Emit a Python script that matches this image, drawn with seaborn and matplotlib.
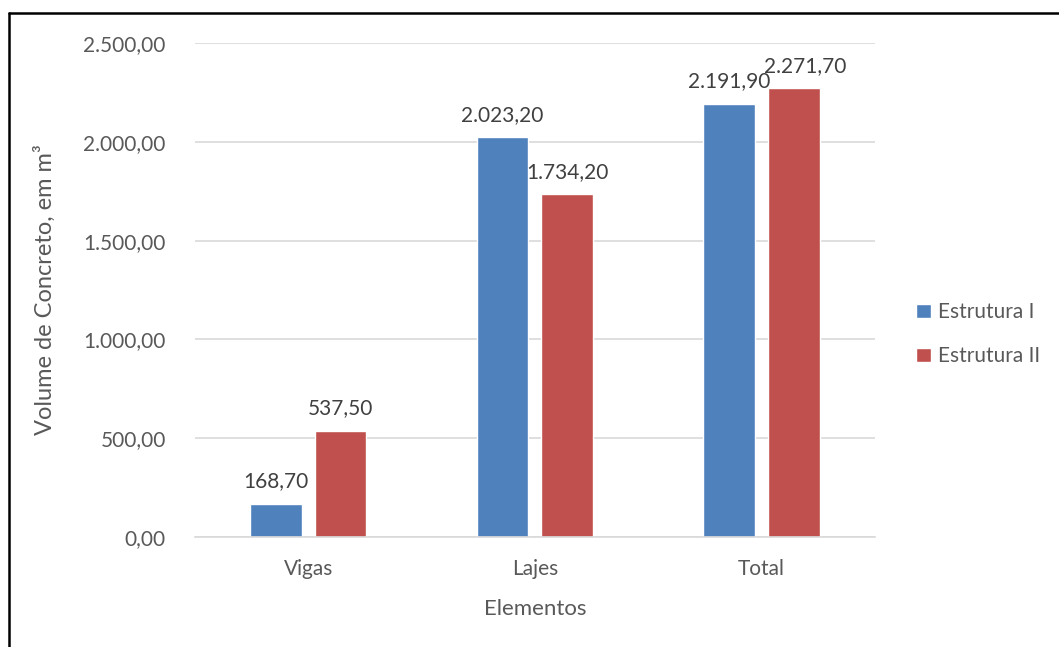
import seaborn as sns
import matplotlib.pyplot as plt
import pandas as pd
from matplotlib.lines import Line2D

elementos = ["Vigas", "Lajes", "Total"]
estrutura_1 = [168.70, 2023.20, 2191.90]
estrutura_2 = [537.50, 1734.20, 2271.70]
series = ["Estrutura I", "Estrutura II"]
cores = ["#4F81BD", "#C0504D"]
yticks = [0, 500, 1000, 1500, 2000, 2500]


def br(v):
    # formato brasileiro 1.234,56
    s = "{:,.2f}".format(v)
    return s.replace(",", "X").replace(".", ",").replace("X", ".")


dados = pd.DataFrame({
    "Elementos": elementos * 2,
    "valor": estrutura_1 + estrutura_2,
    "serie": [series[0]] * 3 + [series[1]] * 3,
})

sns.set_style("white")
plt.rcParams["font.family"] = ["Lato", "DejaVu Sans"]
cinza = "#595959"

fig = plt.figure(figsize=(10.59, 6.47), dpi=100)
ax = fig.add_axes([0.184, 0.170, 0.642, 0.7635])

sns.barplot(data=dados, x="Elementos", y="valor", hue="serie",
            palette=cores, width=0.57, gap=0.2, saturation=1, ax=ax)

rotulos = []
for cont, vals in zip(ax.containers, [estrutura_1, estrutura_2]):
    rotulos.append(ax.bar_label(cont, labels=[br(v) for v in vals], padding=9,
                                fontsize=15, color="#404040"))
# no Excel o ultimo rotulo foi deslocado para a direita
rotulos[1][2].xyann = (8, rotulos[1][2].xyann[1])

ax.set_ylim(0, 2500)
ax.set_xlim(-0.5, 2.5)
ax.set_yticks(yticks)
ax.set_yticklabels([br(v) for v in yticks])
ax.yaxis.grid(True, color="#D9D9D9", linewidth=1.2)
ax.set_axisbelow(True)
for s in ["top", "right", "left"]:
    ax.spines[s].set_visible(False)
ax.spines["bottom"].set_color("#D9D9D9")
ax.spines["bottom"].set_linewidth(1.2)
ax.tick_params(axis="both", length=0, labelsize=15, labelcolor=cinza)
ax.tick_params(axis="y", pad=21)
ax.tick_params(axis="x", pad=16)

ax.set_xlabel("Elementos", fontsize=16, color=cinza, labelpad=14)
ax.set_ylabel("Volume de Concreto, em m³", fontsize=17, color=cinza, labelpad=20)

leg = ax.legend(loc="center left", bbox_to_anchor=(1.033, 0.41), frameon=False,
                fontsize=15, labelspacing=1.15, handlelength=0.7, handleheight=0.7,
                handletextpad=0.35)
for t in leg.get_texts():
    t.set_color(cinza)

# moldura (topo e esquerda)
fig.add_artist(Line2D([0.0085, 1.0], [1 - 13 / 647, 1 - 13 / 647], color="black", linewidth=1.8))
fig.add_artist(Line2D([0.0085, 0.0085], [0.0, 1 - 13 / 647], color="black", linewidth=1.8))

fig.savefig("out.png", dpi=100)
